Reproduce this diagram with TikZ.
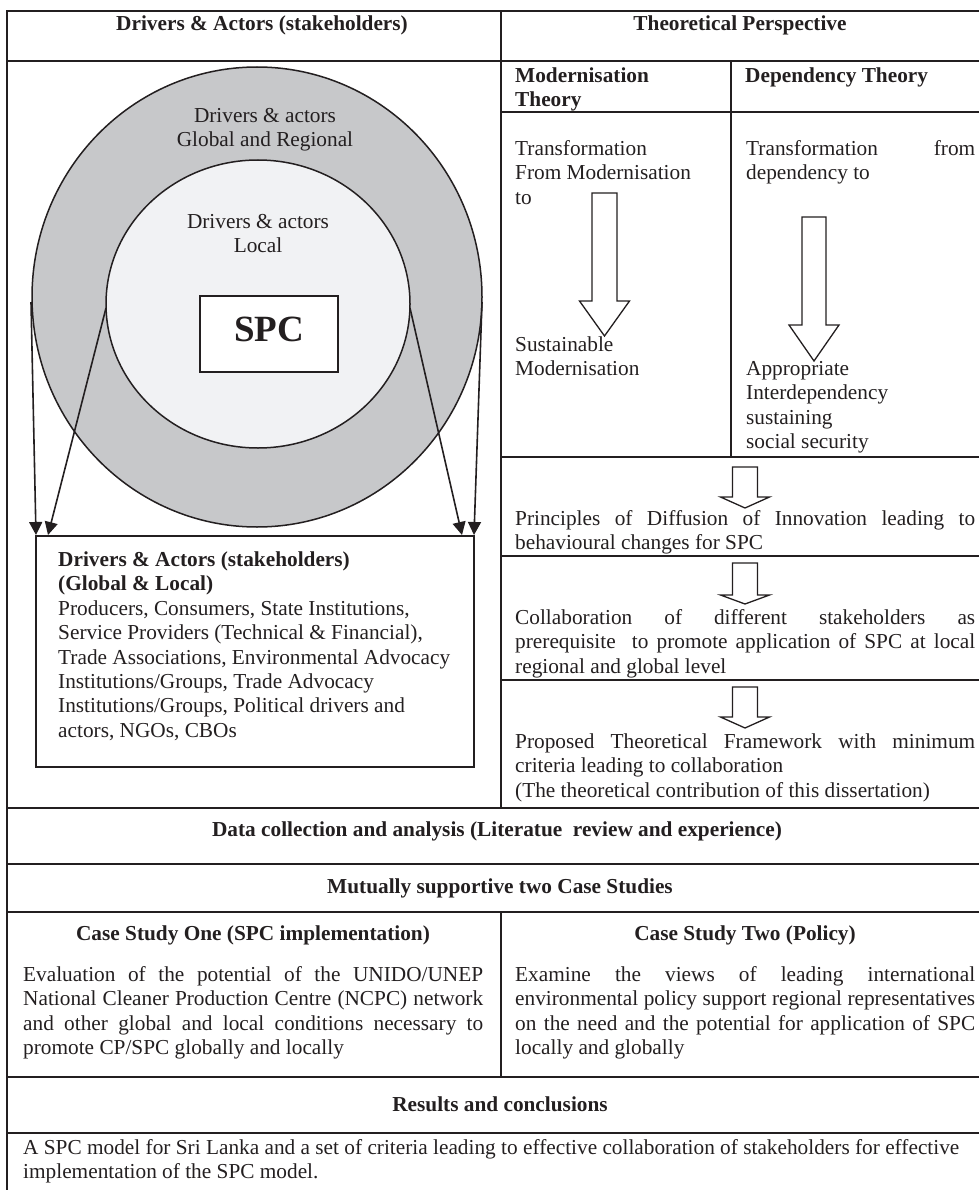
\documentclass[tikz,border=0pt]{standalone}
\usepackage{fontspec}
\setmainfont{Liberation Serif}
\usetikzlibrary{arrows.meta,shapes.geometric,calc}

\definecolor{ink}{HTML}{231F20}
\definecolor{ringgray}{HTML}{C7C8CA}
\definecolor{coregray}{HTML}{F1F2F4}

\newcommand{\bodyfont}{\fontsize{21.3}{24.4}\selectfont}
% a justified line of a given width
\newcommand{\J}[2]{\makebox[#1][s]{#2}}
% hollow block arrow pointing down: centre x, top, head base, tip, shaft half-width, head half-width
\newcommand{\blockdown}[6]{%
  \draw[blockarrow] ({#1-#5},#2) -- ({#1+#5},#2) -- ({#1+#5},#3) -- ({#1+#6},#3)
    -- (#1,#4) -- ({#1-#6},#3) -- ({#1-#5},#3) -- cycle;}

\begin{document}
% multi-line text nodes are placed by the baseline of their last line
\begin{tikzpicture}[x=1pt,y=-1pt,
  rule/.style={line width=2.2pt, draw=ink, line cap=rect},
  txt/.style={font=\bodyfont, text=ink, inner sep=0pt, anchor=base west, align=left},
  ctxt/.style={font=\bodyfont, text=ink, inner sep=0pt, anchor=base, align=center},
  head/.style={font=\bodyfont\bfseries, text=ink, inner sep=0pt, anchor=base, align=center},
  lhead/.style={font=\bodyfont\bfseries, text=ink, inner sep=0pt, anchor=base west, align=left},
  blockarrow/.style={draw=ink, line width=1.3pt, fill=white, line join=miter},
  feed/.style={draw=ink, line width=1.6pt, -{Triangle[length=13pt,width=13pt]}},
]
\useasboundingbox (0,0) rectangle (978,1190);

% ---------- table rules ----------
\draw[rule] (7,11) -- (990,11);
\draw[rule] (7,11) -- (7,1200);
\draw[rule] (501,11) -- (501,808);
\draw[rule] (7,61) -- (990,61);
\draw[rule] (501,112) -- (990,112);
\draw[rule] (731,61) -- (731,457);
\draw[rule] (501,457) -- (990,457);
\draw[rule] (501,556) -- (990,556);
\draw[rule] (501,680) -- (990,680);
\draw[rule] (7,808) -- (990,808);
\draw[rule] (7,864) -- (990,864);
\draw[rule] (7,912) -- (990,912);
\draw[rule] (501,912) -- (501,1077);
\draw[rule] (7,1077) -- (990,1077);
\draw[rule] (7,1133) -- (990,1133);

% ---------- column headings ----------
\node[head] (hdA) at (262,31) {Drivers \& Actors (stakeholders)};
\node[head] (hdB) at (740,31) {Theoretical Perspective};
\node[lhead] (hdMod) at (515,106.9) {Modernisation\\Theory};
\node[lhead] (hdDep) at (745,82.5) {Dependency Theory};

% ---------- stakeholder rings ----------
\node[ellipse, draw=ink, line width=1.5pt, fill=ringgray, inner sep=0pt, outer sep=0pt,
      minimum width=450pt, minimum height=460pt] (outer) at (257,297) {};
\node[ellipse, draw=ink, line width=1.5pt, fill=coregray, inner sep=0pt, outer sep=0pt,
      minimum width=304pt, minimum height=288pt] (inner) at (258,304) {};
\node[ctxt] (ringlbl) at (265,146.9) {Drivers \& actors\\Global and Regional};
\node[ctxt] (corelbl) at (258,252.9) {Drivers \& actors\\Local};
\node[draw=ink, line width=1.5pt, fill=white, inner sep=0pt, outer sep=0pt,
      minimum width=138pt, minimum height=76pt, text depth=9pt, text=ink,
      font=\fontsize{37}{40}\selectfont\bfseries] (spc) at (269,334) {SPC};

% ---------- stakeholder list ----------
\node[draw=ink, line width=1.6pt, inner sep=0pt, outer sep=0pt, anchor=north west,
      minimum width=438pt, minimum height=231pt] (actors) at (36,536) {};
\node[txt] (actorslist) at (58,737.3) {%
  \textbf{Drivers \& Actors (stakeholders)}\\
  \textbf{(Global \& Local)}\\
  Producers, Consumers, State Institutions,\\
  Service Providers (Technical \& Financial),\\
  Trade Associations, Environmental Advocacy\\
  Institutions/Groups, Trade Advocacy\\
  Institutions/Groups, Political drivers and\\
  actors, NGOs, CBOs};

\draw[feed] ($(outer.west)+(-1,5)$) -- ($(actors.north west)+(0,-1)$);
\draw[feed] ($(inner.west)+(0,4)$) -- ($(actors.north west)+(12,-1)$);
\draw[feed] ($(inner.east)+(0,4)$) -- ($(actors.north east)+(-12,-1)$);
\draw[feed] ($(outer.east)+(0,5)$) -- ($(actors.north east)+(0,-1)$);

% ---------- theory columns ----------
\node[txt] (modfrom) at (515,204.3) {Transformation\\From Modernisation\\to};
\node[txt] (modto) at (515,375.9) {Sustainable\\Modernisation};
\node[txt] (depfrom) at (746,179.9) {\J{229pt}{Transformation from}\\dependency to};
\node[txt] (depto) at (746,448.7) {Appropriate\\Interdependency\\sustaining\\social security};
\blockdown{604.5}{193}{301}{336}{12.5}{25}
\blockdown{814}{217}{325}{361}{12}{25}

% ---------- theory chain ----------
\blockdown{745}{467}{497}{508}{12.5}{24.5}
\node[txt] (diffusion) at (515,549.9) {%
  \J{460pt}{Principles of Diffusion of Innovation leading to}\\
  behavioural changes for SPC};
\blockdown{745}{563}{595}{604}{12.5}{24.5}
\node[txt] (collab) at (515,673.3) {%
  \J{460pt}{Collaboration of different stakeholders as}\\
  \J{460pt}{prerequisite\ \ to promote application of SPC at local}\\
  regional and global level};
\blockdown{745}{687}{717}{728}{12.5}{24.5}
\node[txt] (framework) at (515,797.3) {%
  \J{460pt}{Proposed Theoretical Framework with minimum}\\
  criteria leading to collaboration\\
  (The theoretical contribution of this dissertation)};

% ---------- research stages ----------
\node[head] (data) at (497,836.5) {Data collection and analysis (Literatue\ \ review and experience)};
\node[head] (mutual) at (500,893.5) {Mutually supportive two Case Studies};
\node[head] (caseA) at (253,940) {Case Study One (SPC implementation)};
\node[head] (caseB) at (745,940) {Case Study Two (Policy)};
\node[txt] (caseAtxt) at (23,1054.7) {%
  \J{460pt}{Evaluation of the potential of the UNIDO/UNEP}\\
  \J{460pt}{National Cleaner Production Centre (NCPC) network}\\
  \J{460pt}{and other global and local conditions necessary to}\\
  promote CP/SPC globally and locally};
\node[txt] (caseBtxt) at (515,1054.7) {%
  \J{460pt}{Examine the views of leading international}\\
  \J{460pt}{environmental policy support regional representatives}\\
  \J{460pt}{on the need and the potential for application of SPC}\\
  locally and globally};
\node[head] (results) at (500,1111.5) {Results and conclusions};
\node[txt] (outcome) at (23,1178.9) {%
  A SPC model for Sri Lanka and a set of criteria leading to effective collaboration of stakeholders for effective\\
  implementation of the SPC model.};
\end{tikzpicture}
\end{document}
